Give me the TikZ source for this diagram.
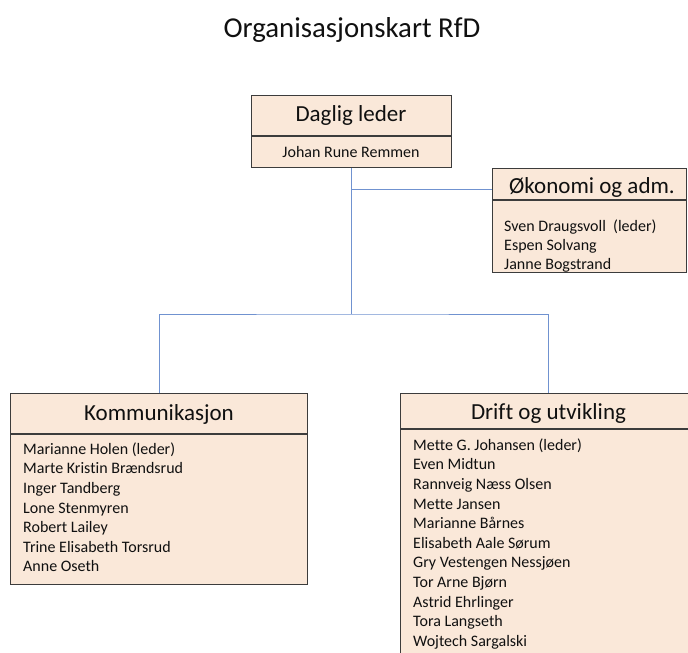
\documentclass[tikz,border=0pt]{standalone}
\usepackage{fontspec}
\setmainfont{Carlito}[Ligatures=NoCommon]
\definecolor{boxfill}{HTML}{FAE8D9}
\definecolor{boxline}{HTML}{3C3C3C}
\definecolor{conn}{HTML}{7092D0}
\definecolor{ink}{HTML}{101010}
\begin{document}
\begin{tikzpicture}[x=1pt,y=-1pt,
  box/.style={draw=boxline, fill=boxfill, line width=0.9pt, inner sep=0pt, anchor=north west},
  divider/.style={draw=boxline, line width=1.7pt},
  connline/.style={draw=conn, line width=0.9pt},
  headtext/.style={font=\fontsize{23}{26}\selectfont, text=ink, inner sep=0pt, anchor=base},
  namefont/.style={font=\fontsize{16}{19}\selectfont, text=ink, inner sep=0pt, anchor=base west},
]
\clip (0,0) rectangle (688,653);
\useasboundingbox (0,0) rectangle (688,653);

% title
\node[font=\fontsize{28.8}{32}\selectfont, text=ink, inner sep=0pt, anchor=base] (title) at (352,37) {Organisasjonskart RfD};

% Daglig leder
\node[box, minimum width=200pt, minimum height=40pt] (dlh) at (251,95) {};
\node[box, minimum width=200pt, minimum height=32pt] (dlb) at (251,135) {};
\draw[divider] (dlh.south west) -- (dlh.south east);
\node[headtext] (dlt) at (351,121.5) {Daglig leder};
\node[namefont, anchor=base] (dln) at (351,157) {Johan Rune Remmen};

% Okonomi og adm.
\node[box, minimum width=194pt, minimum height=31pt] (okh) at (492,168) {};
\node[box, minimum width=194pt, minimum height=73pt] (okb) at (492,199) {};
\draw[divider] (okh.south west) -- (okh.south east);
\node[headtext] (okt) at (592,193.5) {Økonomi og adm.};
\foreach \n [count=\i] in {Sven Draugsvoll\ \ (leder), Espen Solvang, Janne Bogstrand}
  \node[namefont] (ok\i) at (504,{231+19.3*(\i-1)}) {\n};

% Kommunikasjon
\node[box, minimum width=297pt, minimum height=40pt] (komh) at (10,393) {};
\node[box, minimum width=297pt, minimum height=151pt] (komb) at (10,433) {};
\draw[divider] (komh.south west) -- (komh.south east);
\node[headtext] (komt) at (159,420) {Kommunikasjon};
\foreach \n [count=\i] in {Marianne Holen (leder), Marte Kristin Brændsrud, Inger Tandberg, Lone Stenmyren, Robert Lailey, Trine Elisabeth Torsrud, Anne Oseth}
  \node[namefont] (kom\i) at (23,{454.3+19.57*(\i-1)}) {\n};

% Drift og utvikling
\node[box, minimum width=296pt, minimum height=35pt] (drh) at (400,393) {};
\node[box, minimum width=296pt, minimum height=280pt] (drb) at (400,428) {};
\draw[divider] (drh.south west) -- (drh.south east);
\node[headtext] (drt) at (548.5,419) {Drift og utvikling};
\foreach \n [count=\i] in {Mette G. Johansen (leder), Even Midtun, Rannveig Næss Olsen, Mette Jansen, Marianne Bårnes, Elisabeth Aale Sørum, Gry Vestengen Nessjøen, Tor Arne Bjørn, Astrid Ehrlinger, Tora Langseth, Wojtech Sargalski}
  \node[namefont] (dr\i) at (413,{450.3+19.6*(\i-1)}) {\n};

% connectors
\coordinate (branch) at (dlb.south |- 0,189);
\coordinate (split) at (dlb.south |- 0,314);
\draw[connline] (dlb.south) -- (split);
\draw[connline] (branch) -- (okh.west |- branch);
\draw[connline] (komh.north) |- (split) -| (drh.north);
\end{tikzpicture}
\end{document}
